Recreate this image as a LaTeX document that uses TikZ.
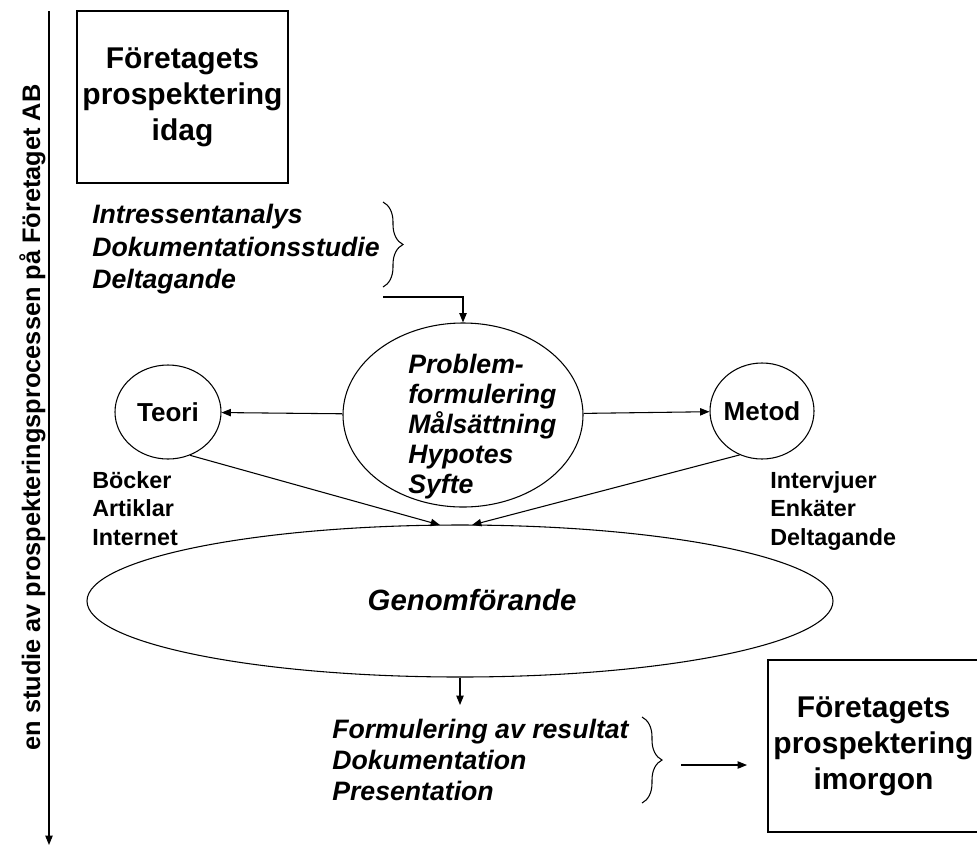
\documentclass[tikz,border=0pt]{standalone}
\usepackage{fontspec}
\setmainfont{Liberation Sans}
\usetikzlibrary{shapes.geometric,arrows.meta,decorations.pathreplacing}

\begin{document}
\begin{tikzpicture}[x=0.75pt,y=-0.75pt,
	every node/.style={inner sep=0pt},
	arr/.style={line width=0.8pt,-{Triangle[length=7pt,width=5.5pt]}},
	box/.style={draw,line width=0.8pt,minimum width=158.25pt,minimum height=129pt,align=center,font=\fontsize{22.5pt}{27pt}\selectfont\bfseries},
	oval/.style={draw,ellipse,line width=0.8pt},
	circ/.style={oval,inner sep=-6pt,font=\fontsize{19.5pt}{23pt}\selectfont\bfseries},
	tasks/.style={align=left,anchor=north west,font=\fontsize{20pt}{#1}\selectfont\bfseries\itshape},
	tasks/.default=24pt,
	sources/.style={align=left,anchor=north west,font=\fontsize{17.5pt}{21.4pt}\selectfont\bfseries},
	curly/.style={line width=0.8pt,decorate,decoration={brace,amplitude=15pt}}]
	\useasboundingbox (0,0) rectangle (977,847);

	% time axis
	\coordinate (start) at (49,11);
	\coordinate (slut) at (49,845);
	\draw[arr] (start) -- (slut);
	\node[rotate=90,anchor=base,font=\fontsize{19pt}{23pt}\selectfont\bfseries] (studie) at (40,417.5) {en studie av prospekteringsprocessen på Företaget AB};

	% boxes
	\node[box] (idag) at (182.5,97) {Företagets\\prospektering\\idag};
	\node[box] (imorgon) at (873.5,746) {Företagets\\prospektering\\imorgon};

	% ellipses
	\node[oval,minimum width=180pt,minimum height=138pt] (problem) at (463,415) {};
	\node[tasks=22.5pt] (problemtext) at (408,354) {Problem-\\formulering\\Målsättning\\Hypotes\\Syfte};
	\node[circ,minimum width=79.5pt,minimum height=70.5pt] (teori) at (168,412) {Teori};
	\node[circ,minimum width=78pt,minimum height=72pt] (metod) at (762,411) {Metod};
	\node[oval,minimum width=559.5pt,minimum height=114pt] (genom) at (460,601) {};
	\node[font=\fontsize{22pt}{26pt}\selectfont\bfseries\itshape] (genomtext) at (472,600) {Genomförande};

	% lists
	\node[tasks=24.4pt] (kartlagg) at (92,204) {Intressentanalys\\Dokumentationsstudie\\Deltagande};
	\node[sources] (bocker) at (92,471) {Böcker\\Artiklar\\Internet};
	\node[sources] (intervjuer) at (770,471) {Intervjuer\\Enkäter\\Deltagande};
	\node[tasks=23.25pt] (resultat) at (332,719) {Formulering av resultat\\Dokumentation\\Presentation};

	% braces
	\coordinate (b1top) at (383,202);
	\coordinate (b1bot) at (383,287);
	\coordinate (b1tail) at (383,297);
	\draw[curly] (b1top) -- (b1bot);
	\coordinate (b2top) at (642,717);
	\coordinate (b2bot) at (642,803);
	\coordinate (b2tail) at (681,765);
	\coordinate (b2head) at (747,765);
	\draw[curly] (b2top) -- (b2bot);

	% connectors
	\coordinate (inl) at (440,525);
	\coordinate (inr) at (472,525);
	\coordinate (ut) at (460,705);
	\draw[arr] (b1tail) -| (problem.north);
	\draw[arr] (problem) -- (teori);
	\draw[arr] (problem) -- (metod);
	\draw[arr] (teori.-63) -- (inl);
	\draw[arr] (metod.-117) -- (inr);
	\draw[arr] (genom.south) -- (ut);
	\draw[arr] (b2tail) -- (b2head);
\end{tikzpicture}
\end{document}
